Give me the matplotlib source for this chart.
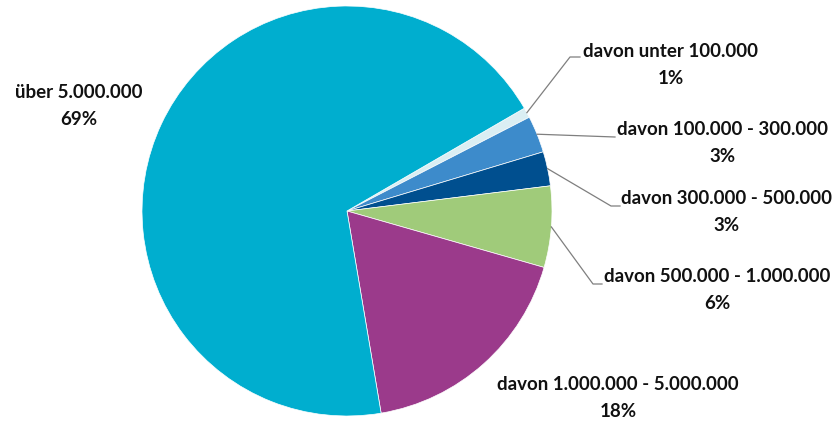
"""Pie chart: Verteilung nach Größenklassen."""

import matplotlib.pyplot as plt
import numpy as np

# Data (shares in %)
categories = [
    "davon unter 100.000",
    "davon 100.000 - 300.000",
    "davon 300.000 - 500.000",
    "davon 500.000 - 1.000.000",
    "davon 1.000.000 - 5.000.000",
    "über 5.000.000",
]
shares = [0.8, 2.9, 2.7, 6.4, 17.9, 69.3]
colors = ["#DAEEF3", "#3D8BCB", "#004F8F", "#A0CB7A", "#9B3A8B", "#00AECF"]

W, H = 837, 423
fig = plt.figure(figsize=(W / 100, H / 100), dpi=100)
ax = fig.add_axes([0, 0, 1, 1])

cx, cy, r = 347, H - 211, 205
wedges, _ = ax.pie(
    shares,
    colors=colors,
    startangle=30.1,
    counterclock=False,
    center=(cx, cy),
    radius=r,
    wedgeprops=dict(edgecolor="white", linewidth=0.5),
    frame=True,
)
ax.set_xlim(0, W)
ax.set_ylim(0, H)
ax.set_aspect("equal")
ax.axis("off")

# label centres (pixel coords, y from top) and leader line elbows
label_pos = [(671, 65), (723, 143), (727, 212), (717, 290), (618, 398), (79, 106)]
elbows = [
    [(570, 57), (580, 57)],
    [(615, 137)],
    [(611, 206), (620, 206)],
    [(593, 284), (602, 284)],
    None,
    None,
]

font = dict(family=["Lato", "DejaVu Sans"], fontsize=13.5, fontweight="bold", color="#111111")

for w, cat, val, (lx, ly), elb in zip(wedges, categories, shares, label_pos, elbows):
    ax.text(lx, H - ly, f"{cat}\n{val:.0f}%", ha="center", va="center",
            linespacing=1.65, **font)
    if elb:
        mid = np.deg2rad((w.theta1 + w.theta2) / 2)
        pts = [(cx + r * np.cos(mid), cy + r * np.sin(mid))]
        pts += [(x, H - y) for x, y in elb]
        xs, ys = zip(*pts)
        ax.plot(xs, ys, color="#7f7f7f", linewidth=0.9)

fig.savefig("out.png", dpi=100)
